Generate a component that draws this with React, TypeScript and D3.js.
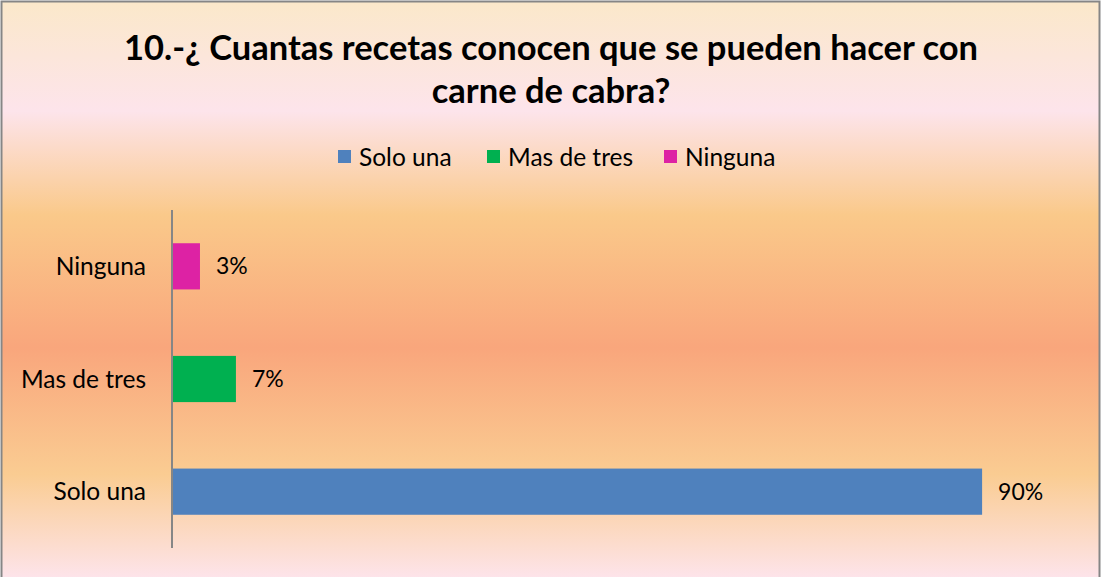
import React from "react";
import * as d3 from "d3";

// chart data
const categories = ["Solo una", "Mas de tres", "Ninguna"];
const values = [0.9, 0.07, 0.03];
const colors = ["#4F81BD", "#00B050", "#DD22A4"];
const titleLines = [
  "10.-¿ Cuantas recetas conocen que se pueden hacer con",
  "carne de cabra?",
];

const W = 1101;
const H = 577;
const FONT = "Lato, 'Open Sans', sans-serif";

const App = () => {
  const margin = { top: 210, right: 29, bottom: 29, left: 173 };

  const x = d3.scaleLinear().domain([0, 1]).range([margin.left, W - margin.right]);
  // Ninguna on top, Solo una at the bottom
  const y = d3
    .scaleBand<string>()
    .domain([...categories].reverse())
    .range([margin.top, H - margin.bottom])
    .paddingInner(0.59)
    .paddingOuter(0.295);

  const pct = d3.format(".0%");

  // legend layout
  const legendX = [338, 487, 664];

  return (
    <svg
      width={W}
      height={H}
      style={{ position: "absolute", left: 0, top: 0, display: "block" }}
      fontFamily={FONT}
    >
      <defs>
        <linearGradient id="bg" x1="0" y1="0" x2="0" y2="1">
          <stop offset="0" stopColor="#FBE8CA" />
          <stop offset="0.19" stopColor="#FDE4EB" />
          <stop offset="0.37" stopColor="#FAC98A" />
          <stop offset="0.6" stopColor="#F9A67C" />
          <stop offset="0.82" stopColor="#FACC92" />
          <stop offset="1" stopColor="#FDE4EB" />
        </linearGradient>
      </defs>
      <rect x={1.5} y={1.5} width={W - 3} height={H} fill="url(#bg)" stroke="#868686" strokeWidth={2} />

      {titleLines.map((t, i) => (
        <text
          key={i}
          x={551}
          y={60 + i * 43}
          textAnchor="middle"
          fontSize={34.5}
          fontWeight="bold"
          fill="#000"
        >
          {t}
        </text>
      ))}

      {categories.map((c, i) => (
        <g key={c}>
          <rect x={legendX[i]} y={150} width={13} height={13} fill={colors[i]} />
          <text x={legendX[i] + 21} y={157} dy="0.35em" fontSize={24.5} fill="#000">
            {c}
          </text>
        </g>
      ))}

      {categories.map((c, i) => (
        <g key={c}>
          <rect
            x={x(0)}
            y={y(c)}
            width={x(values[i]) - x(0)}
            height={y.bandwidth()}
            fill={colors[i]}
          />
          <text
            x={x(values[i]) + 16}
            y={(y(c) ?? 0) + y.bandwidth() / 2}
            dy="0.35em"
            fontSize={23}
            fill="#000"
          >
            {pct(values[i])}
          </text>
          <text
            x={146}
            y={(y(c) ?? 0) + y.bandwidth() / 2}
            dy="0.35em"
            textAnchor="end"
            fontSize={24.5}
            fill="#000"
          >
            {c}
          </text>
        </g>
      ))}

      <line x1={172} x2={172} y1={margin.top} y2={H - margin.bottom} stroke="#868686" strokeWidth={2} />
    </svg>
  );
};

export default App;
